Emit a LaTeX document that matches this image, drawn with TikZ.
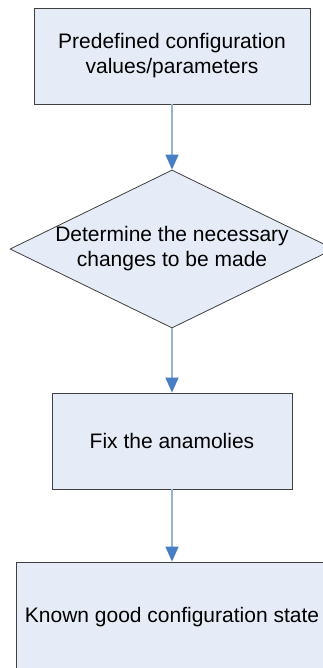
\documentclass[tikz,border=0pt]{standalone}
\usepackage{fontspec}
\setmainfont{Liberation Sans}
\usetikzlibrary{shapes.geometric,arrows.meta}
\definecolor{boxfill}{HTML}{E6ECF7}
\definecolor{boxline}{HTML}{404040}
\definecolor{arrline}{HTML}{95B3D7}
\definecolor{arrhead}{HTML}{4A7EC4}
\tikzset{
  flowbox/.style={draw=boxline, fill=boxfill, line width=0.8pt, rectangle, inner sep=0pt, align=center, font=\fontsize{21}{25}\selectfont},
  flowdia/.style={draw=boxline, fill=boxfill, line width=0.8pt, diamond, inner sep=0pt},
  flowtxt/.style={inner sep=0pt, align=center, font=\fontsize{21}{25}\selectfont},
  flowarr/.style={draw=arrline, line width=1.5pt, -{Triangle[length=15pt,width=13pt,color=arrhead]}}
}
\begin{document}
\begin{tikzpicture}[x=1pt,y=-1pt]
\useasboundingbox (0,0) rectangle (323,668);
\clip (0,0) rectangle (323,668);
\fill[white] (0,0) rectangle (323,668);
\node[flowbox, minimum width=276pt, minimum height=96pt] (b1) at (172,56) {Predefined configuration\\values/parameters};
\node[flowdia, minimum width=324pt, minimum height=158pt] (d1) at (172,249) {};
\node[flowtxt] (d1t) at (d1.center) {Determine the necessary\\changes to be made};
\node[flowbox, minimum width=240pt, minimum height=96pt] (b2) at (172,441) {Fix the anamolies};
\node[flowbox, minimum width=312pt, minimum height=110pt] (b3) at (172,617) {Known good configuration state};
\draw[flowarr] (b1.south) -- (d1.north);
\draw[flowarr] (d1.south) -- (b2.north);
\draw[flowarr] (b2.south) -- (b3.north);
\end{tikzpicture}
\end{document}
